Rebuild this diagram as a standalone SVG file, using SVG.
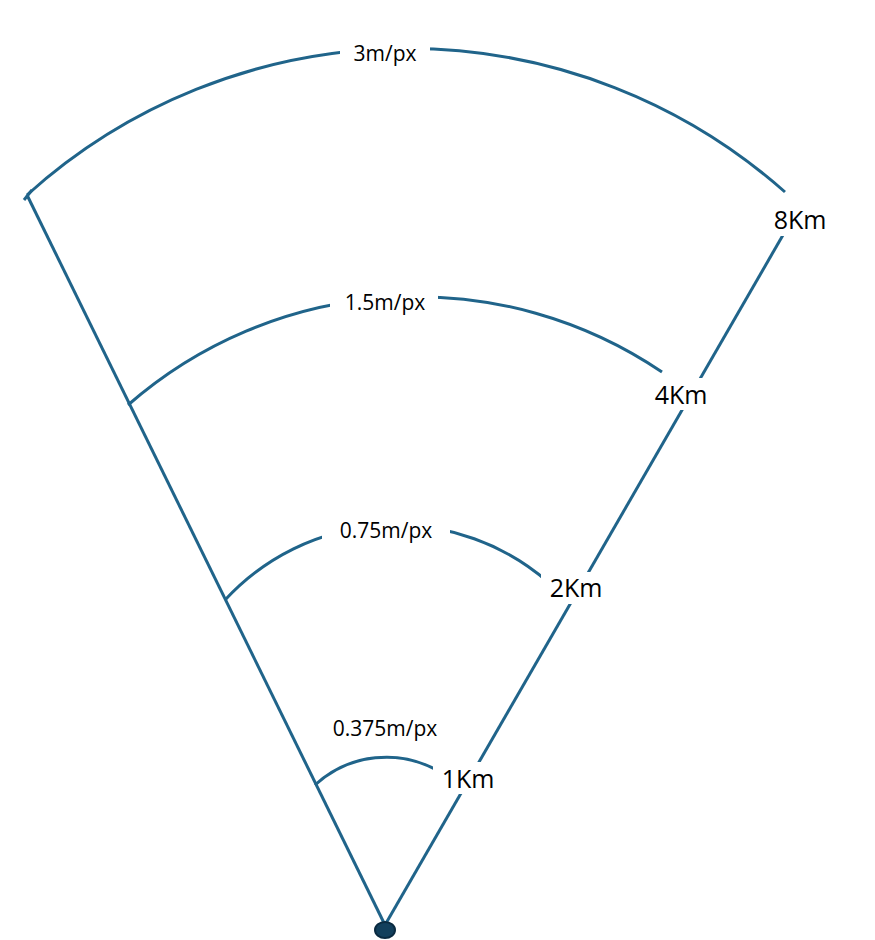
<svg xmlns="http://www.w3.org/2000/svg" width="875" height="940" viewBox="0 0 875 940">
<style>
.l{stroke:#20648a;stroke-width:3;fill:none}
.t{font-family:"Open Sans","Liberation Sans",sans-serif;fill:#000}
.s{font-size:21px}
.k{font-size:25px}
</style>
<rect width="875" height="940" fill="#fff"/>
<g id="connectors">
<path class="l" d="M385,925 L27,195"/>
<path class="l" d="M385,925 L783,235"/>
<path class="l" d="M24,200 L32,190"/>
<path class="l" d="M27,195 A568,568 0 0 1 785,192"/>
<path class="l" d="M128,405 A438,438 0 0 1 662,372"/>
<path class="l" d="M225,600 A232,232 0 0 1 548,582"/>
<path class="l" d="M315,785 A105,105 0 0 1 440,772"/>
</g>
<g id="apex"><ellipse cx="385" cy="930" rx="10" ry="8" fill="#123f5c" stroke="#0a2a40" stroke-width="2"/></g>
<g id="l1"><rect x="340" y="38" width="90" height="28" fill="#fff"/><text class="t s" x="385" y="61" text-anchor="middle">3m/px</text></g>
<g id="l2"><rect x="330" y="288" width="108" height="28" fill="#fff"/><text class="t s" x="385" y="310" text-anchor="middle">1.5m/px</text></g>
<g id="l3"><rect x="322" y="516" width="128" height="28" fill="#fff"/><text class="t s" x="386" y="538" text-anchor="middle">0.75m/px</text></g>
<g id="l4"><text class="t s" x="385" y="736" text-anchor="middle">0.375m/px</text></g>
<g id="k8"><rect x="765" y="204" width="70" height="32" fill="#fff"/><text class="t k" x="800" y="229" text-anchor="middle">8Km</text></g>
<g id="k4"><rect x="646" y="378" width="70" height="32" fill="#fff"/><text class="t k" x="681" y="404" text-anchor="middle">4Km</text></g>
<g id="k2"><rect x="541" y="572" width="70" height="32" fill="#fff"/><text class="t k" x="576" y="597" text-anchor="middle">2Km</text></g>
<g id="k1"><rect x="433" y="762" width="70" height="32" fill="#fff"/><text class="t k" x="468" y="788" text-anchor="middle">1Km</text></g>
</svg>
